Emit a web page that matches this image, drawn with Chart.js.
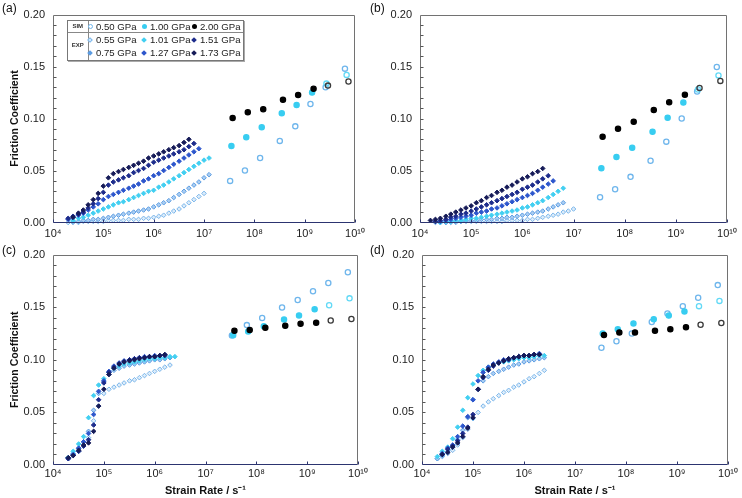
<!DOCTYPE html>
<html><head><meta charset="utf-8">
<script src="https://cdn.jsdelivr.net/npm/chart.js@4.4.0/dist/chart.umd.min.js"></script>
<style>
html,body{margin:0;padding:0;background:#fff;}
#wrap{position:relative;width:742px;height:498px;overflow:hidden;font-family:'Liberation Sans',Arial,sans-serif;color:#111;}
canvas{position:absolute;}
.plabel{position:absolute;font-size:12px;line-height:12px;color:#111;}
#legend{position:absolute;left:67px;top:20px;width:175px;height:39px;border:1px solid #777;box-shadow:1px 1px 0 #aaa;background:#fff;font-size:9.6px;color:#222;}
#legend .hl{position:absolute;left:0;right:0;top:10.5px;border-top:1px solid #888;}
#legend .vl{position:absolute;top:0;bottom:0;left:19.5px;border-left:1px solid #888;}
#legend .grp{position:absolute;left:0;width:19.5px;text-align:center;font-size:6px;font-weight:bold;color:#333;}
#legend .it{position:absolute;white-space:nowrap;line-height:10px;}
#legend .mk{position:absolute;width:5px;height:5px;box-sizing:border-box;}
</style></head><body>
<div id="wrap">
<canvas id="ca" width="370" height="240" style="left:0;top:0"></canvas>
<canvas id="cb" width="372" height="240" style="left:370px;top:0"></canvas>
<canvas id="cc" width="370" height="258" style="left:0;top:240px"></canvas>
<canvas id="cd" width="372" height="258" style="left:370px;top:240px"></canvas>
<div class="plabel" style="left:2px;top:2px">(a)</div>
<div class="plabel" style="left:370px;top:2px">(b)</div>
<div class="plabel" style="left:2px;top:244px">(c)</div>
<div class="plabel" style="left:370px;top:244px">(d)</div>
<div id="legend"></div>
</div>
<script>
// ---------- DATA ----------
// experimental strain-rate grid (s^-1)
const rates = [1.6e4,2.0e4,2.5e4,3.2e4,4.0e4,5.0e4,6.3e4,7.9e4,1.0e5,1.26e5,1.58e5,2.0e5,2.5e5,3.2e5,4.0e5,5.0e5,6.3e5,7.9e5,1.0e6,1.26e6,1.58e6,2.0e6,2.5e6,3.2e6,4.0e6,5.0e6,6.3e6,7.9e6,1.0e7,1.26e7];
// simulation strain rates per pressure
const simRates050 = [3.3e7,6.5e7,1.3e8,3.2e8,6.5e8,1.3e9,2.6e9,6.3e9];
const simRates100 = [3.5e7,6.9e7,1.4e8,3.5e8,6.9e8,1.4e9,2.7e9,6.8e9];
const simRates200 = [3.7e7,7.4e7,1.5e8,3.7e8,7.4e8,1.5e9,2.9e9,7.4e9];
const xTickExps = [4,5,6,7,8,9,10];
const yTicks = [0,0.05,0.10,0.15,0.20];

// panel (a)
const a055 = [null,0.000,0.000,0.000,0.001,0.001,0.001,0.001,0.001,0.002,0.002,0.002,0.002,0.003,0.003,0.003,0.004,0.004,0.005,0.006,0.007,0.009,0.011,0.013,0.016,0.019,0.022,0.025,0.028,null];
const a075 = [null,null,0.001,0.001,0.002,0.002,0.003,0.003,0.004,0.005,0.006,0.007,0.008,0.009,0.010,0.011,0.012,0.013,0.015,0.017,0.019,0.021,0.024,0.027,0.030,0.033,0.036,0.039,0.043,0.046];
const a101 = [null,null,0.002,0.004,0.005,0.007,0.009,0.011,0.013,0.015,0.017,0.019,0.020,0.022,0.024,0.026,0.028,0.030,0.031,0.034,0.036,0.039,0.042,0.045,0.048,0.051,0.054,0.057,0.060,0.062];
const a127 = [null,0.003,0.005,0.007,0.009,0.012,0.015,0.018,0.022,0.025,0.027,0.029,0.031,0.033,0.035,0.037,0.040,0.042,0.045,0.047,0.050,0.053,0.056,0.059,0.062,0.065,0.068,0.071,null,null];
const a151 = [null,0.004,0.006,0.008,0.010,0.014,0.018,0.023,0.029,0.036,0.039,0.041,0.043,0.045,0.048,0.050,0.052,0.055,0.058,0.060,0.062,0.064,0.066,0.068,0.070,0.073,0.076,null,null,null];
const a173 = [null,null,0.005,0.009,0.012,0.017,0.022,0.028,0.035,0.043,0.047,0.049,0.051,0.053,0.055,0.057,0.059,0.062,0.064,0.066,0.068,0.070,0.072,0.074,0.077,0.080,null,null,null,null];
const aSim050 = [0.040,0.050,0.062,0.0785,0.0925,0.114,0.130,0.148];
const aSim100 = [0.0735,0.082,0.0916,0.105,0.113,0.125,0.1336,0.142];
const aSim200 = [0.1006,0.106,0.109,0.118,0.1227,0.1286,0.1317,0.1357];

// panel (b)
const b055 = [null,0.000,0.000,0.000,0.000,0.000,0.001,0.001,0.001,0.001,0.001,0.001,0.001,0.001,0.001,0.002,0.002,0.002,0.002,0.003,0.003,0.004,0.005,0.006,0.007,0.008,0.010,0.011,0.013,null];
const b075 = [null,null,0.000,0.000,0.001,0.001,0.001,0.002,0.002,0.002,0.003,0.003,0.003,0.004,0.004,0.005,0.005,0.006,0.007,0.008,0.009,0.010,0.011,0.013,0.015,0.017,0.019,null,null,null];
const b101 = [null,null,0.000,0.001,0.001,0.002,0.002,0.003,0.004,0.004,0.005,0.006,0.007,0.008,0.009,0.010,0.011,0.012,0.014,0.015,0.017,0.019,0.021,0.024,0.027,0.030,0.033,null,null,null];
const b127 = [null,0.001,0.001,0.002,0.003,0.004,0.005,0.006,0.007,0.009,0.010,0.011,0.013,0.014,0.016,0.018,0.020,0.022,0.024,0.026,0.028,0.031,0.034,0.037,0.040,null,null,null,null,null];
const b151 = [null,0.001,0.002,0.003,0.005,0.006,0.008,0.009,0.011,0.013,0.015,0.017,0.019,0.021,0.023,0.025,0.027,0.029,0.032,0.034,0.036,0.039,0.042,0.045,null,null,null,null,null,null];
const b173 = [0.002,0.003,0.004,0.006,0.008,0.010,0.012,0.014,0.016,0.019,0.021,0.024,0.026,0.029,0.031,0.034,0.036,0.039,0.042,0.044,0.047,0.049,0.052,null,null,null,null,null,null,null];
const bSim050 = [0.0243,0.032,0.0439,0.0594,0.0778,0.100,0.126,0.1496];
const bSim100 = [0.0523,0.0631,0.0719,0.0874,0.1008,0.1154,0.128,0.1415];
const bSim200 = [0.0824,0.0902,0.097,0.1082,0.1157,0.1229,0.1294,0.1362];

// panel (c)
const c055 = [null,0.007,0.010,0.013,0.018,0.026,0.042,0.056,0.068,0.072,0.074,0.076,0.078,0.080,0.081,0.083,0.085,0.087,0.089,0.091,0.093,0.095,null,null,null,null,null,null,null,null];
const c075 = [null,0.007,0.011,0.016,0.022,0.032,0.052,0.068,0.079,0.086,0.090,0.092,0.094,0.095,0.096,0.097,0.098,0.099,0.100,0.100,0.101,0.102,null,null,null,null,null,null,null,null];
const c101 = [null,0.007,0.013,0.020,0.027,0.045,0.066,0.076,0.082,0.088,0.092,0.094,0.096,0.097,0.098,0.099,0.100,0.101,0.101,0.102,0.102,0.103,0.103,null,null,null,null,null,null,null];
const c127 = [null,0.006,0.010,0.016,0.022,0.030,0.048,0.070,0.080,0.089,0.094,0.097,0.099,0.100,0.101,0.102,0.103,0.103,0.104,0.104,0.105,null,null,null,null,null,null,null,null,null];
const c151 = [null,0.006,0.009,0.013,0.018,0.024,0.038,0.062,0.078,0.088,0.093,0.096,0.098,0.100,0.101,0.102,0.102,0.103,0.103,0.104,0.104,null,null,null,null,null,null,null,null,null];
const c173 = [null,0.007,0.009,0.014,0.019,0.021,0.032,0.056,0.072,0.086,0.092,0.096,0.098,0.099,0.100,0.101,0.102,0.103,0.103,0.104,0.105,null,null,null,null,null,null,null,null,null];
const cSim050 = [0.123,0.133,0.1398,0.1497,0.1568,0.1652,0.173,0.1832];
const cSim100 = [0.1233,0.127,0.132,0.1382,0.1422,0.148,0.1519,0.1584];
const cSim200 = [0.1276,0.1283,0.1304,0.1323,0.1342,0.1351,0.1373,0.1388];

// panel (d)
const d055 = [null,0.006,0.008,0.011,0.014,0.019,0.026,0.034,0.044,0.050,0.056,0.060,0.063,0.066,0.069,0.071,0.074,0.076,0.079,0.082,0.084,0.087,0.090,null,null,null,null,null,null,null];
const d075 = [null,0.006,0.009,0.013,0.017,0.024,0.033,0.045,0.062,0.072,0.080,0.084,0.087,0.089,0.091,0.093,0.095,0.096,0.098,0.099,0.100,0.101,0.102,null,null,null,null,null,null,null];
const d101 = [null,0.008,0.013,0.017,0.025,0.036,0.052,0.064,0.077,0.085,0.090,0.093,0.095,0.097,0.098,0.099,0.100,0.101,0.102,0.102,0.103,0.104,0.104,null,null,null,null,null,null,null];
const d127 = [null,null,0.011,0.016,0.019,0.027,0.037,0.046,0.062,0.080,0.088,0.093,0.096,0.098,0.100,0.101,0.102,0.103,0.104,0.104,0.105,0.106,null,null,null,null,null,null,null,null];
const d151 = [null,null,0.010,0.015,0.018,0.023,0.030,0.036,0.048,0.072,0.083,0.090,0.094,0.097,0.099,0.100,0.102,0.103,0.104,0.104,0.105,0.105,null,null,null,null,null,null,null,null];
const d173 = [null,null,0.010,0.012,0.017,0.021,0.027,0.035,0.045,0.072,0.084,0.091,0.095,0.097,0.099,0.101,0.102,0.103,0.104,0.104,0.105,0.105,null,null,null,null,null,null,null,null];
const dSim050 = [0.1115,0.1177,0.125,0.136,0.144,0.151,0.159,0.171];
const dSim100 = [0.125,0.129,0.1346,0.1386,0.142,0.146,0.151,0.156];
const dSim200 = [0.1236,0.126,0.126,0.1277,0.129,0.131,0.1333,0.135];

const simLabels = ['0.50 GPa','1.00 GPa','2.00 GPa'];
const expLabels = ['0.55 GPa','0.75 GPa','1.01 GPa','1.27 GPa','1.51 GPa','1.73 GPa'];

// ---------- STYLE ----------
const FONT = "'Liberation Sans', Arial, sans-serif";
Chart.defaults.font.family = FONT;
const C = {
  s050:'#6fb6ec', s100:'#38cdf1', s100open:'#62d9f6', s200:'#000000', s200open:'#3a3a3a',
  e055b:'#79b5ea', e055f:'#dcecfa', e075b:'#5b9ce2', e075f:'#a9cdf2',
  e101:'#42cff1', e127:'#2d56cc', e151:'#1d2c8c', e173:'#161b58'
};
const SUP = {'4':'\u2074','5':'\u2075','6':'\u2076','7':'\u2077','8':'\u2078','9':'\u2079','0':'\u2070','1':'\u00b9'};

function pairs(xs, ys){ const out=[]; for(let i=0;i<xs.length;i++){ if(ys[i]!==null && ys[i]!==undefined) out.push({x:xs[i], y:ys[i]}); } return out; }

function expDs(label, xs, ys, border, fill){
  return {label, data:pairs(xs,ys), pointStyle:'rectRot', pointRadius:2.3, pointBorderWidth:1,
    pointBorderColor:border, pointBackgroundColor:fill, showLine:false, clip:4};
}
function simDs(label, xs, ys, color, openColor, alwaysOpen){
  return {label, data:pairs(xs,ys), pointStyle:'circle', pointRadius:2.6, showLine:false, clip:4,
    pointBorderWidth:1.3,
    pointBorderColor: ctx => (ctx.raw && ctx.raw.x > 2e9 && !alwaysOpen) ? openColor : color,
    pointBackgroundColor: ctx => (alwaysOpen || (ctx.raw && ctx.raw.x > 2e9)) ? 'rgba(255,255,255,0)' : color};
}

const framePlugin = {
  id:'frame',
  afterDraw(chart){
    const {ctx, chartArea:a, scales:{x, y}} = chart;
    ctx.save();
    const L=Math.round(a.left)+0.5, R=Math.round(a.right)-0.5, T=Math.round(a.top)+0.5, B=Math.round(a.bottom)-0.5;
    ctx.lineWidth=1;
    ctx.strokeStyle='#727272';
    ctx.beginPath(); ctx.moveTo(L,B); ctx.lineTo(L,T); ctx.lineTo(R,T); ctx.lineTo(R,B); ctx.stroke();
    ctx.strokeStyle='#2c3470';
    ctx.beginPath(); ctx.moveTo(L,B); ctx.lineTo(R,B); ctx.stroke();
    // y minor ticks every 0.01
    ctx.strokeStyle='#555';
    ctx.beginPath();
    for(let k=1;k<20;k++){ const py=Math.round(y.getPixelForValue(k*0.01))+0.5; ctx.moveTo(L,py); ctx.lineTo(L+3,py); }
    ctx.stroke();
    // x decade ticks
    ctx.strokeStyle='#2c3470';
    ctx.beginPath();
    xTickExps.forEach(e=>{ const px=Math.round(x.getPixelForValue(Math.pow(10,e)))+0.5; ctx.moveTo(px,B); ctx.lineTo(px,B-3); });
    ctx.stroke();
    ctx.restore();
  }
};

function makePanel(id, p){
  const datasets = [
    simDs(simLabels[2], simRates200, p.sim[2], C.s200, C.s200open, false),
    simDs(simLabels[1], simRates100, p.sim[1], C.s100, C.s100open, false),
    simDs(simLabels[0], simRates050, p.sim[0], C.s050, C.s050, true),
    expDs(expLabels[5], rates, p.exp[5], C.e173, C.e173),
    expDs(expLabels[4], rates, p.exp[4], C.e151, C.e151),
    expDs(expLabels[3], rates, p.exp[3], C.e127, C.e127),
    expDs(expLabels[2], rates, p.exp[2], C.e101, C.e101),
    expDs(expLabels[1], rates, p.exp[1], C.e075b, C.e075f),
    expDs(expLabels[0], rates, p.exp[0], C.e055b, C.e055f)
  ];
  new Chart(document.getElementById(id), {
    type:'scatter',
    data:{datasets},
    options:{
      responsive:false, animation:false, devicePixelRatio:1,
      layout:{padding:{left:0, right:p.padR, top:p.padT, bottom:0}},
      plugins:{legend:{display:false}, tooltip:{enabled:false}},
      scales:{
        x:{type:'logarithmic', min:1e4, max:1e10,
          grid:{display:false, drawTicks:false}, border:{display:false},
          afterBuildTicks: s => { s.ticks = xTickExps.map(e=>({value:Math.pow(10,e)})); },
          afterFit: s => { s.height = p.xH; },
          ticks:{autoSkip:false, maxRotation:0, padding:p.xPad, color:'#1a1a1a', font:{size:11},
            callback: v => { const e=String(Math.round(Math.log10(v))); return '10'+e.split('').map(c=>SUP[c]).join(''); }},
          title:{display:p.xTitle, text:'Strain Rate / s\u207b\u00b9', color:'#111', font:{size:11, weight:'bold'}, padding:{top:0,bottom:0}}
        },
        y:{min:0, max:0.2,
          grid:{display:false, drawTicks:false}, border:{display:false},
          afterBuildTicks: s => { s.ticks = yTicks.map(v=>({value:v})); },
          afterFit: s => { s.width = p.yW; },
          ticks:{padding:8, color:'#1a1a1a', font:{size:11}, callback: v => v.toFixed(2)},
          title:{display:p.yTitle, text:'Friction Coefficient', color:'#111', font:{size:10.6, weight:'bold'}, padding:{top:9,bottom:0}}
        }
      }
    },
    plugins:[framePlugin]
  });
}

makePanel('ca', {exp:[a055,a075,a101,a127,a151,a173], sim:[aSim050,aSim100,aSim200], padR:8, padT:9, xH:17.5, yW:53, xPad:5, xTitle:false, yTitle:true});
makePanel('cb', {exp:[b055,b075,b101,b127,b151,b173], sim:[bSim050,bSim100,bSim200], padR:10, padT:9, xH:17.5, yW:50, xPad:5, xTitle:false, yTitle:false});
makePanel('cc', {exp:[c055,c075,c101,c127,c151,c173], sim:[cSim050,cSim100,cSim200], padR:8, padT:10, xH:33, yW:53, xPad:2, xTitle:true, yTitle:true});
makePanel('cd', {exp:[d055,d075,d101,d127,d151,d173], sim:[dSim050,dSim100,dSim200], padR:14, padT:10, xH:33, yW:52, xPad:2, xTitle:true, yTitle:false});

// ---------- LEGEND (panel a) ----------
(function(){
  const lg = document.getElementById('legend');
  let h = '<div class="hl"></div><div class="vl"></div>';
  h += '<div class="grp" style="top:2px;line-height:7px">SIM</div>';
  h += '<div class="grp" style="top:21px;line-height:7px">EXP</div>';
  const cols = [22, 76, 126];
  const rows = [5.5, 18.8, 32.2];
  const simMk = [
    `border:1.3px solid ${C.s050};border-radius:50%;background:#fff`,
    `border-radius:50%;background:${C.s100}`,
    `border-radius:50%;background:#000`
  ];
  simLabels.forEach((t,i)=>{
    h += `<div class="mk" style="left:${cols[i]-2.5}px;top:${rows[0]-2.5}px;${simMk[i]}"></div>`;
    h += `<div class="it" style="left:${cols[i]+6}px;top:${rows[0]-5}px">${t}</div>`;
  });
  const expOrder = [[0,2,4],[1,3,5]];
  const expMk = [
    `border:1px solid ${C.e055b};background:${C.e055f}`,
    `background:${C.e075b}`,
    `background:${C.e101}`,
    `background:${C.e127}`,
    `background:${C.e151}`,
    `background:${C.e173}`
  ];
  expOrder.forEach((row,r)=>{
    row.forEach((k,ci)=>{
      h += `<div class="mk" style="left:${cols[ci]-2}px;top:${rows[r+1]-2}px;width:4px;height:4px;transform:rotate(45deg);${expMk[k]}"></div>`;
      h += `<div class="it" style="left:${cols[ci]+6}px;top:${rows[r+1]-5}px">${expLabels[k]}</div>`;
    });
  });
  lg.innerHTML = h;
})();
</script>
</body></html>
